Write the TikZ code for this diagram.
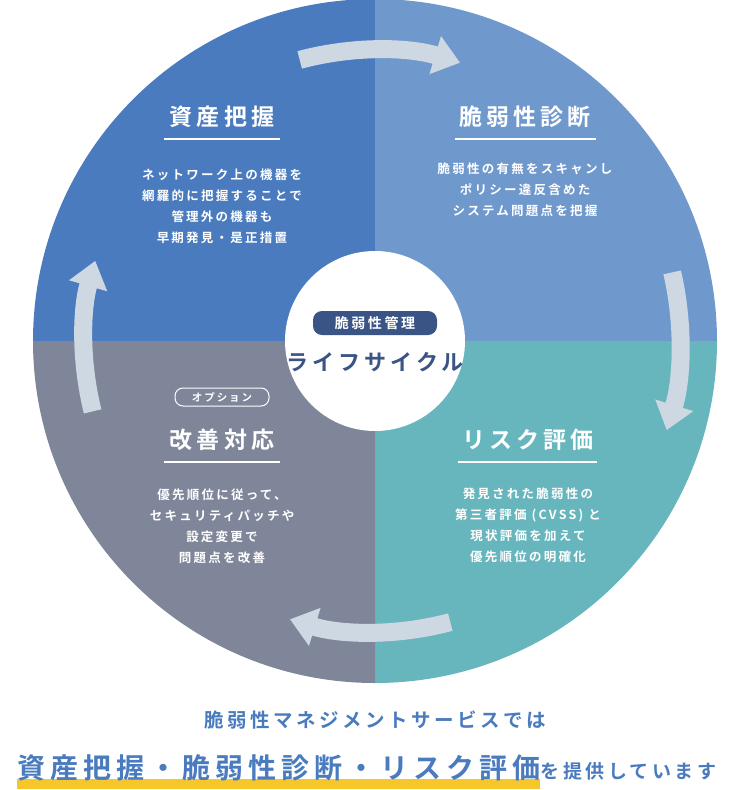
\documentclass[tikz,border=0pt]{standalone}
\usepackage{fontspec}
\setmainfont{Noto Sans CJK JP}[BoldFont={* Bold},LetterSpace=18]
\usetikzlibrary{arrows.meta}
\definecolor{qblue}{HTML}{4A7BBF}
\definecolor{qsky}{HTML}{6F98CC}
\definecolor{qteal}{HTML}{68B6BD}
\definecolor{qgrey}{HTML}{7F8699}
\definecolor{cycarrow}{HTML}{CDD8E3}
\definecolor{navy}{HTML}{3A5585}
\definecolor{hiyellow}{HTML}{F7C72A}
\tikzset{
  title/.style={text=white,font=\bfseries\fontsize{23}{26}\selectfont,inner sep=0.75pt},
  body/.style={text=white,font=\bfseries\fontsize{12.5}{21}\selectfont,align=center,inner sep=0.75pt},
  cyc/.style={draw=cycarrow,line width=18pt,-{Triangle[length=26pt,width=38pt]}}
}
\begin{document}
\begin{tikzpicture}[x=1pt,y=1pt,yscale=-1]
        \useasboundingbox (0,0) rectangle (750,790);
        % quadrants
        \fill[qblue] (375,341) -- (33,341) arc[start angle=180,end angle=270,radius=342] -- cycle;
        \fill[qsky] (375,341) -- (375,-1) arc[start angle=270,end angle=360,radius=342] -- cycle;
        \fill[qteal] (375,341) -- (717,341) arc[start angle=0,end angle=90,radius=342] -- cycle;
        \fill[qgrey] (375,341) -- (375,683) arc[start angle=90,end angle=180,radius=342] -- cycle;
        % cycle arrows
        \draw[cyc] (375,341) ++(-105:291) arc[start angle=-105,end angle=-73,radius=291];
        \draw[cyc] (375,341) ++(-13:305) arc[start angle=-13,end angle=17,radius=305];
        \draw[cyc] (375,341) ++(75:291) arc[start angle=75,end angle=107,radius=291];
        \draw[cyc] (375,341) ++(166:291) arc[start angle=166,end angle=196,radius=291];
        % centre
        \node (hub) [circle,fill=white,minimum size=180pt] at (375,341) {};
        \node (hubtag) [fill=navy,text=white,rounded corners=9pt,minimum width=124pt,minimum height=24pt,
            font=\bfseries\fontsize{14}{16}\selectfont] at (375,323) {脆弱性管理};
        \node (hubname) [text=navy,font=\bfseries\fontsize{22}{24}\selectfont] at (375,362) {ライフサイクル};
        % asset
        \node (asset) [title] at (222,117) {資産把握};
        \draw[white,line width=1.5pt] (164,139) -- (280,139);
        \node (assetnote) [body,anchor=north] at (222,168) {ネットワーク上の機器を\\網羅的に把握することで\\管理外の機器も\\早期発見・是正措置};
        % diagnosis
        \node (diag) [title] at (525,117) {脆弱性診断};
        \draw[white,line width=1.5pt] (455,139) -- (596,139);
        \node (diagnote) [body,anchor=north] at (525,162) {脆弱性の有無をスキャンし\\ポリシー違反含めた\\システム問題点を把握};
        % risk
        \node (risk) [title] at (528,440) {リスク評価};
        \draw[white,line width=1.5pt] (458,462) -- (597,462);
        \node (risknote) [body,anchor=north] at (528,487) {発見された脆弱性の\\第三者評価 (CVSS) と\\現状評価を加えて\\優先順位の明確化};
        % remedy
        \node (opt) [draw=white,line width=1pt,text=white,rounded corners=8pt,minimum width=94pt,minimum height=18pt,
            font=\bfseries\fontsize{10.5}{12}\selectfont] at (222,397) {オプション};
        \node (fix) [title] at (222,440) {改善対応};
        \draw[white,line width=1.5pt] (164,462) -- (280,462);
        \node (fixnote) [body,anchor=north] at (222,488) {優先順位に従って、\\セキュリティパッチや\\設定変更で\\問題点を改善};
        % summary
        \node (lead) [text=qblue,font=\bfseries\fontsize{19.5}{22}\selectfont] at (375,720) {脆弱性マネジメントサービスでは};
        \fill[hiyellow] (17,779) rectangle (540,789);
        \node (claim) [text=qblue,anchor=base west,inner sep=0pt] at (17,778)
            {\bfseries\fontsize{28}{34}\selectfont 資産把握・脆弱性診断・リスク評価\fontsize{19}{22}\selectfont を提供しています};
\end{tikzpicture}
\end{document}
